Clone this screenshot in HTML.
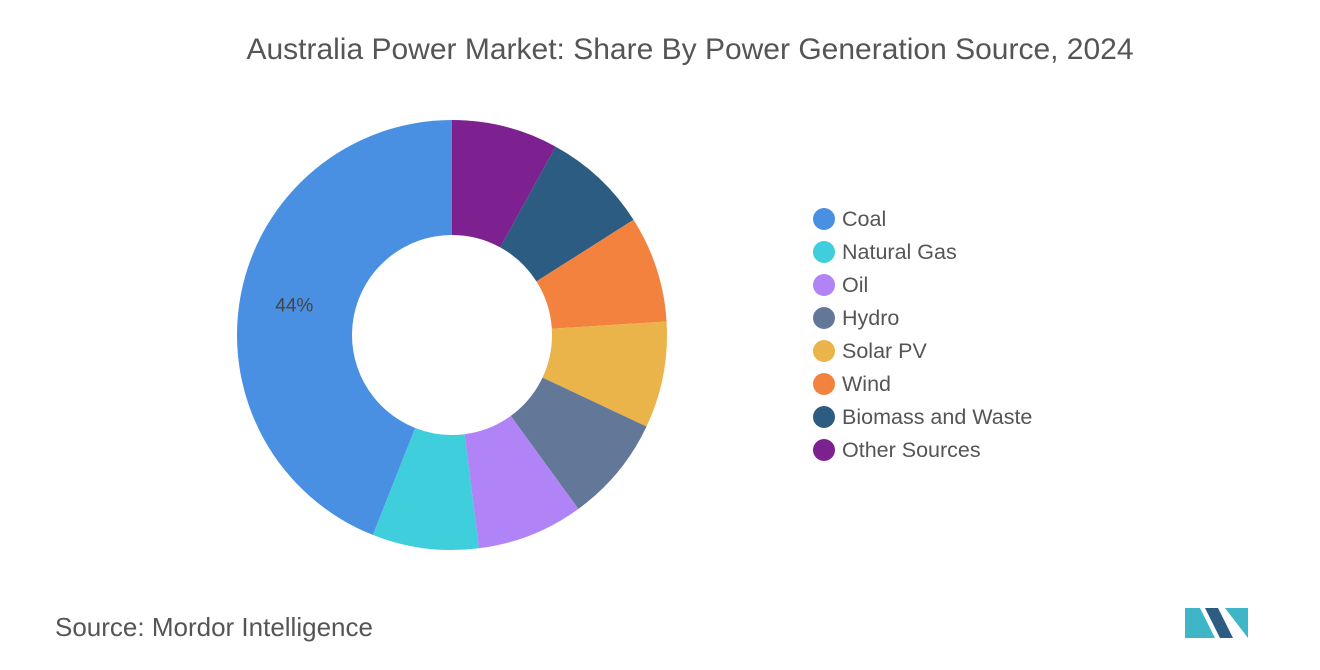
<!DOCTYPE html>
<html><head><meta charset="utf-8">
<style>
body{margin:0;width:1320px;height:665px;background:#fff;overflow:hidden;font-family:"Liberation Sans",sans-serif;}
</style></head>
<body>
<svg id="chart" width="1320" height="665" xmlns="http://www.w3.org/2000/svg">
<text x="690" y="59" text-anchor="middle" font-size="30" fill="#555">Australia Power Market: Share By Power Generation Source, 2024</text>
<g id="slices"></g>
<g id="legend"></g>
<text x="55" y="636" font-size="26" fill="#555"><tspan>Source:</tspan>  Mordor Intelligence</text>
<g>
<polygon points="1185,638 1185,608 1200,608 1215,638" fill="#3fb6c8"/>
<polygon points="1205,608 1218,608 1233,638 1220,638" fill="#2c5c82"/>
<polygon points="1225,608 1248,608 1248,638" fill="#3fb6c8"/>
</g>
</svg>
<script>
const categories=["Other Sources","Biomass and Waste","Wind","Solar PV","Hydro","Oil","Natural Gas","Coal"];
const values=[8,8,8,8,8,8,8,44];
const colors=["#7d2190","#2c5c82","#f3823f","#ebb44b","#637899","#b084f7","#3fcfdc","#4a90e2"];
const legendOrder=["Coal","Natural Gas","Oil","Hydro","Solar PV","Wind","Biomass and Waste","Other Sources"];
const NS="http://www.w3.org/2000/svg";
const cx=452,cy=335,R=215,r=100;
const total=values.reduce((a,b)=>a+b,0);
const g=document.getElementById('slices');
let a0=0;
function pt(a,rad){return [cx+rad*Math.sin(a),cy-rad*Math.cos(a)];}
values.forEach((v,i)=>{
  const a1=a0+v/total*2*Math.PI;
  const large=(a1-a0)>Math.PI?1:0;
  const [x0,y0]=pt(a0,R),[x1,y1]=pt(a1,R),[x2,y2]=pt(a1,r),[x3,y3]=pt(a0,r);
  const p=document.createElementNS(NS,'path');
  p.setAttribute('d',`M${x0},${y0}A${R},${R} 0 ${large} 1 ${x1},${y1}L${x2},${y2}A${r},${r} 0 ${large} 0 ${x3},${y3}Z`);
  p.setAttribute('fill',colors[i]);
  
  
  g.appendChild(p);
  if(categories[i]==="Coal"){
    const m=(a0+a1)/2;const [lx,ly]=pt(m,(R+r)/2);
    const t=document.createElementNS(NS,'text');
    t.setAttribute('x',lx-3);t.setAttribute('y',ly+6);
    t.setAttribute('text-anchor','middle');t.setAttribute('font-size','19');t.setAttribute('fill','#444');
    t.textContent=Math.round(v/total*100)+'%';
    
    
    g.appendChild(t);
  }
  a0=a1;
});
const lg=document.getElementById('legend');
legendOrder.forEach((name,k)=>{
  const i=categories.indexOf(name);
  const y=219+k*33;
  const c=document.createElementNS(NS,'circle');
  c.setAttribute('cx',824);c.setAttribute('cy',y);c.setAttribute('r',11);c.setAttribute('fill',colors[i]);
  
  
  lg.appendChild(c);
  const t=document.createElementNS(NS,'text');
  t.setAttribute('x',842);t.setAttribute('y',y+7);t.setAttribute('font-size','21.5');t.setAttribute('fill','#555');
  t.textContent=name;
  
  
  lg.appendChild(t);
});
</script>
</body></html>
